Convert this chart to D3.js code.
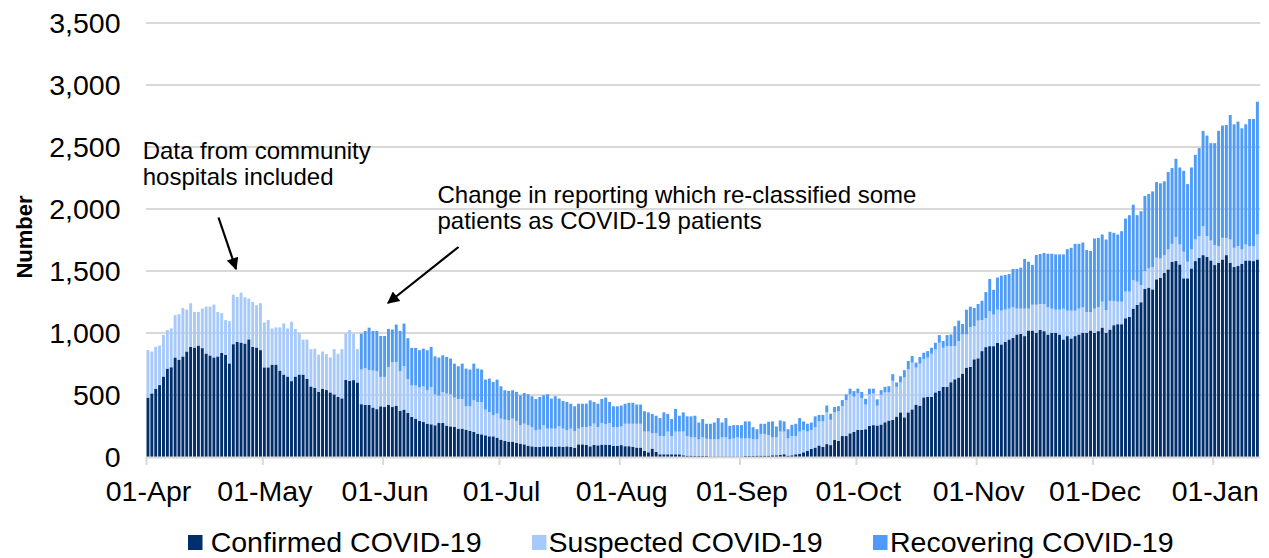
<!DOCTYPE html>
<html>
<head>
<meta charset="utf-8">
<script src="https://cdn.jsdelivr.net/npm/d3@7"></script>
<style>
  html, body { margin: 0; padding: 0; background: #fff; }
  svg { display: block; font-family: "Liberation Sans", Arial, sans-serif; }
</style>
</head>
<body>
<svg id="chart" width="1269" height="558"></svg>
<script>
// ---------- data ----------
const startDate = new Date(2020, 3, 1);   // 01-Apr-2020, one bar per day
const seriesNames = ["Confirmed COVID-19", "Suspected COVID-19", "Recovering COVID-19"];

const confirmed = [
  479,513,551,580,649,713,724,803,785,811,851,888,883,899,878,835,819,803,811,840,
  824,755,910,928,923,915,949,888,883,862,723,723,745,745,697,665,649,612,649,665,
  665,630,569,559,527,551,540,521,505,484,473,622,614,620,601,
  426,420,420,399,386,
  409,403,420,403,414,371,382,355,323,309,291,282,269,264,256,274,274,253,247,242,
  229,229,221,210,202,188,183,175,167,167,156,140,129,124,124,113,108,102,91,86,
  81,81,86,86,86,81,86,81,86,81,75,102,
  102,97,86,97,94,100,100,97,91,89,
  96,87,87,82,76,76,49,38,68,41,22,22,22,22,22,22,14,11,11,8,
  8,8,8,5,5,5,5,5,5,5,5,5,8,8,8,11,11,11,11,14,
  14,16,22,11,14,22,27,38,49,66,76,93,82,104,96,137,131,169,169,191,
  202,218,218,224,251,257,
  254,262,280,294,299,326,360,320,360,384,422,414,481,486,486,521,534,566,566,603,
  627,641,673,721,726,788,796,854,886,894,894,921,908,929,948,961,988,993,975,1020,
  1020,1001,1025,1015,988,1001,1001,988,948,975,956,975,988,1001,1001,1020,1001,1015,
  1044,1002,1028,1063,1071,1071,1119,1130,1197,1227,1248,1355,1366,1352,1433,1446,1486,1513,1575,1580,
  1553,1441,1441,1521,1580,1607,1628,1615,1585,1548,1567,1593,1628,1567,1532,1540,1559,1585,1585,1580,
  1593
];

const suspected = [
  383,338,337,319,335,311,313,341,367,391,338,352,287,271,319,378,394,426,359,320,
  280,341,399,362,402,373,328,362,341,378,362,381,292,300,348,412,388,478,383,333,
  282,317,301,314,298,300,290,282,365,349,397,375,410,375,269,
  279,298,282,298,306,
  237,243,306,361,350,323,350,274,253,267,269,288,269,301,250,221,248,258,259,237,
  239,239,188,199,255,256,261,207,196,169,194,169,172,172,185,178,148,167,165,156,
  134,140,170,143,143,148,161,148,129,148,135,127,
  140,145,161,172,148,174,164,177,151,153,
  150,181,181,186,192,192,156,167,123,150,147,147,183,147,183,183,191,158,147,150,
  134,150,139,137,137,137,153,153,137,145,153,145,142,142,134,131,175,175,166,144,
  144,189,183,139,155,147,178,180,156,152,164,194,205,256,204,223,238,241,290,314,
  284,295,257,199,254,256,
  160,240,241,227,315,240,241,321,348,377,299,339,307,315,347,347,387,315,328,291,
  267,294,315,267,321,267,304,251,235,281,254,267,272,259,248,246,208,203,221,176,
  208,227,209,219,219,195,187,200,248,205,224,205,208,206,168,149,195,192,
  209,182,231,196,182,182,215,204,228,187,139,145,155,180,174,155,142,161,144,193,
  161,214,134,153,174,174,233,166,161,161,131,174,139,187,155,160,115,129,115,120,
  201
];

const recovering = [
  0,0,0,0,0,0,0,0,0,0,0,0,0,0,0,0,0,0,0,0,
  0,0,0,0,0,0,0,0,0,0,0,0,0,0,0,0,0,0,0,0,
  0,0,0,0,0,0,0,0,0,0,0,0,0,0,0,
  290,298,341,319,324,
  330,330,307,264,304,323,344,329,304,304,301,304,323,323,306,307,298,296,288,274,
  264,285,304,296,296,269,261,242,269,269,274,261,237,237,229,234,242,247,250,248,
  253,263,242,277,242,261,224,223,229,201,199,201,
  188,188,210,175,188,194,215,170,167,167,
  169,161,169,169,155,155,164,155,156,142,145,191,142,137,183,128,155,159,170,175,
  136,148,121,126,136,172,120,156,109,107,99,107,137,137,98,82,82,82,107,129,
  88,90,82,74,90,99,109,69,63,60,88,52,52,55,49,44,41,49,46,46,
  46,38,49,47,46,38,
  51,37,45,50,54,35,50,59,66,53,40,53,53,53,48,53,62,54,89,94,
  161,165,85,200,165,147,134,155,209,261,200,259,283,280,280,309,320,331,401,379,
  321,401,403,411,432,443,446,446,438,496,507,539,523,523,500,492,566,560,
  541,570,557,549,541,568,589,616,610,536,595,605,600,610,610,606,595,624,611,632,
  621,653,626,661,683,710,769,811,785,822,932,906,911,1004,996,1005,977,969,1026,1026,
  1071
];

const yTicks = [0, 500, 1000, 1500, 2000, 2500, 3000, 3500];
const monthTickDates = [
  new Date(2020,3,1), new Date(2020,4,1), new Date(2020,5,1), new Date(2020,6,1),
  new Date(2020,7,1), new Date(2020,8,1), new Date(2020,9,1), new Date(2020,10,1),
  new Date(2020,11,1), new Date(2021,0,1)
];
const monthTickLabels = ["01-Apr","01-May","01-Jun","01-Jul","01-Aug","01-Sep","01-Oct","01-Nov","01-Dec","01-Jan"];

const colors = ["#002f6c", "#a8cafb", "#4f9bf8"];

// ---------- layout ----------
(function draw() {
const svg = d3.select("#chart");
const plotLeft = 146, plotRight = 1259.3, plotTop = 23, plotBottom = 457;
const FONT = '"Liberation Sans", Arial, sans-serif';

const endDate = d3.timeDay.offset(startDate, confirmed.length);
const days = d3.timeDay.range(startDate, endDate);

const x = d3.scaleTime().domain([startDate, endDate]).range([plotLeft, plotRight]);
const y = d3.scaleLinear().domain([0, 3500]).range([plotBottom, plotTop]);

// gridlines
svg.append("g")
  .selectAll("line")
  .data(yTicks.filter(v => v > 0))
  .join("line")
  .attr("x1", plotLeft).attr("x2", plotRight + 1)
  .attr("y1", d => y(d)).attr("y2", d => y(d))
  .attr("stroke", "#d9d9d9").attr("stroke-width", 2);

// stacked bars
const rows = days.map((d, i) => ({
  date: d,
  [seriesNames[0]]: confirmed[i],
  [seriesNames[1]]: suspected[i],
  [seriesNames[2]]: recovering[i]
}));
const stacked = d3.stack().keys(seriesNames)(rows);
const gap = 0.95;

svg.append("g")
  .selectAll("g")
  .data(stacked)
  .join("g")
  .attr("fill", (d, i) => colors[i])
  .selectAll("rect")
  .data(d => d)
  .join("rect")
  .attr("x", d => x(d.data.date) + 0.5)
  .attr("width", d => x(d3.timeDay.offset(d.data.date, 1)) - x(d.data.date) - gap)
  .attr("y", d => y(d[1]))
  .attr("height", d => Math.max(0, y(d[0]) - y(d[1])));

// x axis
const xAxis = svg.append("g")
  .attr("transform", `translate(0,${plotBottom})`)
  .call(d3.axisBottom(x)
    .tickValues(monthTickDates)
    .tickFormat((d, i) => monthTickLabels[i])
    .tickSize(8)
    .tickPadding(16));
xAxis.select(".domain").attr("stroke", "#d9d9d9").attr("stroke-width", 2)
  .attr("d", `M${plotLeft},0.5H${plotRight + 1}`);
xAxis.selectAll(".tick line").attr("stroke", "#d9d9d9").attr("stroke-width", 2);
xAxis.selectAll(".tick text")
  .attr("font-family", FONT).attr("font-size", 28.5).attr("fill", "#000")
  .attr("dx", 2);

// y axis labels
const yAxis = svg.append("g")
  .attr("transform", `translate(${plotLeft},0)`)
  .call(d3.axisLeft(y).tickValues(yTicks).tickFormat(d3.format(",")).tickSize(0).tickPadding(25.5));
yAxis.select(".domain").remove();
yAxis.selectAll(".tick text")
  .attr("font-family", FONT).attr("font-size", 28.5).attr("fill", "#000");

// y title
svg.append("text")
  .attr("transform", "translate(32,237) rotate(-90)")
  .attr("text-anchor", "middle")
  .attr("font-family", FONT).attr("font-weight", "bold").attr("font-size", 22)
  .attr("fill", "#000")
  .text("Number");

// annotations
const defs = svg.append("defs");
defs.append("marker")
  .attr("id", "arrow").attr("viewBox", "0 0 10 10")
  .attr("refX", 9).attr("refY", 5)
  .attr("markerWidth", 6).attr("markerHeight", 5.5)
  .attr("markerUnits", "strokeWidth")
  .attr("orient", "auto")
  .append("path").attr("d", "M0,0L10,5L0,10z").attr("fill", "#000");

function annotation(lines, tx, ty, lh) {
  const t = svg.append("text")
    .attr("font-family", FONT).attr("font-size", 24).attr("fill", "#000");
  lines.forEach((s, i) => t.append("tspan").attr("x", tx).attr("y", ty + i * lh).text(s));
}
annotation(["Data from community", "hospitals included"], 142.7, 159.3, 25.7);
annotation(["Change in reporting which re-classified some", "patients as COVID-19 patients"], 437.5, 202.5, 26.8);

svg.append("line")
  .attr("x1", 218.5).attr("y1", 217.5).attr("x2", 236).attr("y2", 269)
  .attr("stroke", "#000").attr("stroke-width", 2.2).attr("marker-end", "url(#arrow)");
svg.append("line")
  .attr("x1", 458.5).attr("y1", 247).attr("x2", 388).attr("y2", 303)
  .attr("stroke", "#000").attr("stroke-width", 2.2).attr("marker-end", "url(#arrow)");

// legend
const legendX = [188, 532, 873];
const legendTextX = [210.7, 548.6, 890];
const lg = svg.append("g");
seriesNames.forEach((name, i) => {
  lg.append("rect").attr("x", legendX[i]).attr("y", 535).attr("width", 14.5).attr("height", 15)
    .attr("fill", colors[i]);
  lg.append("text").attr("x", legendTextX[i]).attr("y", 551.5)
    .attr("font-family", FONT).attr("font-size", 28.5).attr("fill", "#000")
    .text(name);
});
})();
</script>
</body>
</html>
